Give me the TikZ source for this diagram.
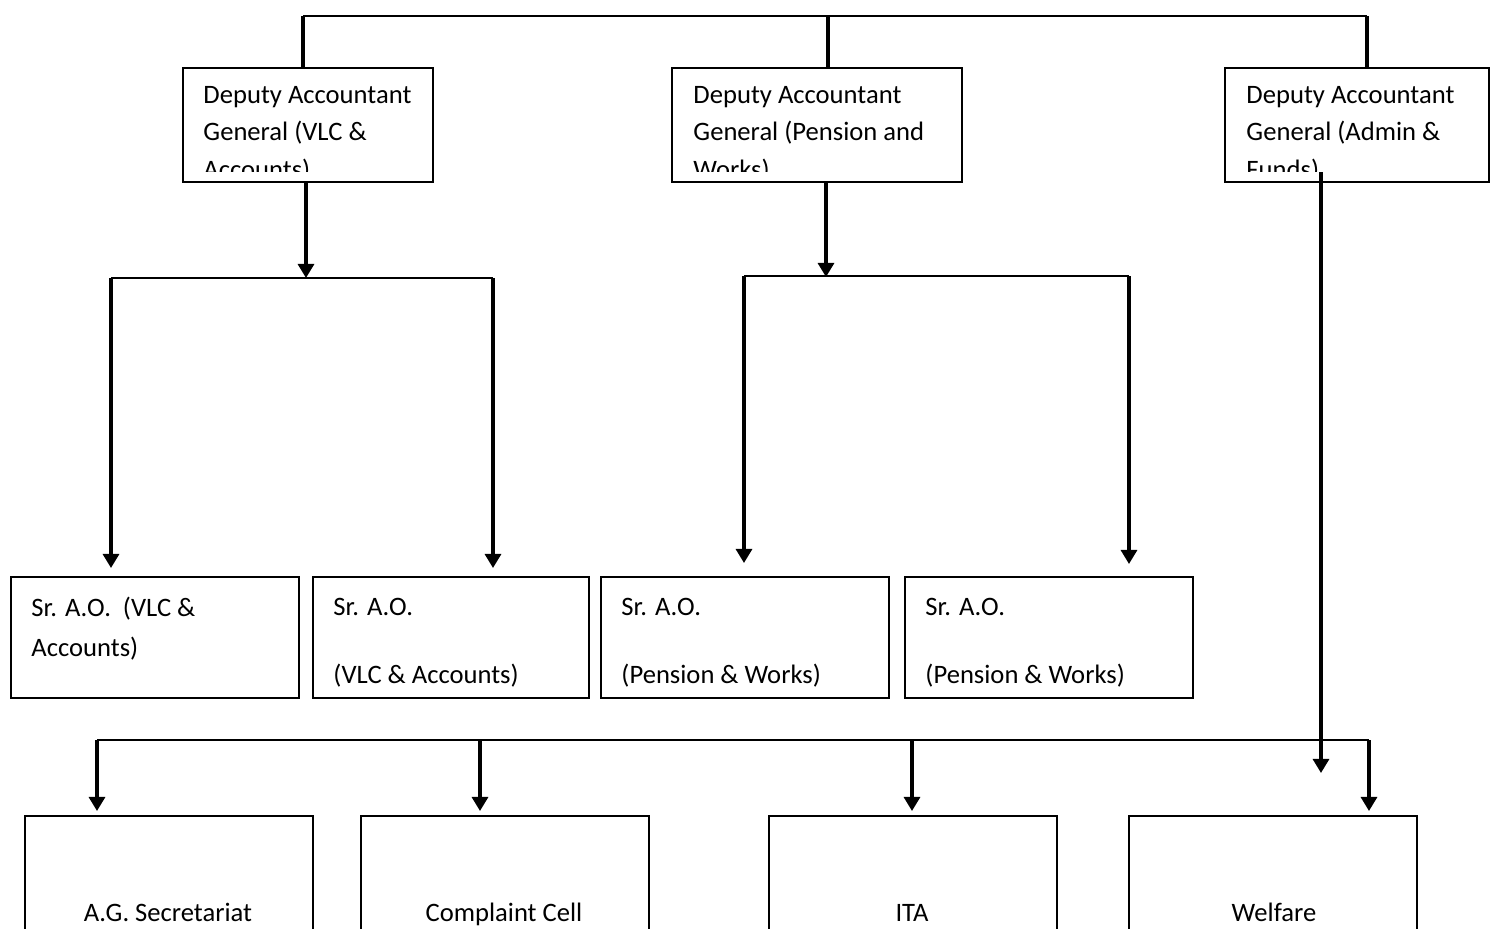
\documentclass[tikz,border=0pt]{standalone}
\usepackage{fontspec}
\setmainfont{Carlito}
\usetikzlibrary{arrows.meta}
\def\pxu{0.4134pt}

\begin{document}
\begin{tikzpicture}[x=\pxu, y=-\pxu,
  box/.style={rectangle, draw=black, line width=1pt, inner sep=0pt,
              anchor=north west},
  txt/.style={anchor=base west, align=left, inner sep=0pt,
              font=\fontsize{11pt}{15.3pt}\selectfont},
  ctxt/.style={anchor=base, inner sep=0pt, font=\fontsize{11pt}{15.3pt}\selectfont},
  bus/.style={line width=0.9pt},
  stem/.style={line width=1.3pt},
  arr/.style={-{Triangle[length=5.8pt, width=6.6pt]}, line width=1.3pt}
]
  \clip (0,0) rectangle (1496,929);

  % deputy accountants general
  \node[box, minimum width={250*\pxu}, minimum height={114*\pxu}] (dagvlc) at (182,67) {};
  \node[box, minimum width={290*\pxu}, minimum height={114*\pxu}] (dagpen) at (671,67) {};
  \node[box, minimum width={264*\pxu}, minimum height={114*\pxu}] (dagadm) at (1224,67) {};
  \begin{scope}
    \clip (0,0) rectangle (1496,171);
    \node[txt] (tvlc) at (203,178) {Deputy Accountant\\General (VLC \&\\Accounts)};
    \node[txt] (tpen) at (693,178) {Deputy Accountant\\General (Pension and\\Works)};
    \node[txt] (tadm) at (1246,178) {Deputy Accountant\\General (Admin \&\\Funds)};
  \end{scope}

  % senior audit officers
  \node[box, minimum width={288*\pxu}, minimum height={121*\pxu}] (aovlca) at (10,576) {};
  \node[box, minimum width={276*\pxu}, minimum height={121*\pxu}] (aovlcb) at (312,576) {};
  \node[box, minimum width={288*\pxu}, minimum height={121*\pxu}] (aopena) at (600,576) {};
  \node[box, minimum width={288*\pxu}, minimum height={121*\pxu}] (aopenb) at (904,576) {};
  \node[txt] (tvlca) at (31,656) {Sr. A.O.\ \ (VLC \&\\[1.2pt]Accounts)};
  \node[txt] (tvlcb) at (333,683) {Sr. A.O.\\[12.4pt](VLC \& Accounts)};
  \node[txt] (tpena) at (621,683) {Sr. A.O.\\[12.4pt](Pension \& Works)};
  \node[txt] (tpenb) at (925,683) {Sr. A.O.\\[12.4pt](Pension \& Works)};

  % sections
  \node[box, minimum width={288*\pxu}, minimum height={200*\pxu}] (secr) at (24,815) {};
  \node[box, minimum width={288*\pxu}, minimum height={200*\pxu}] (cell) at (360,815) {};
  \node[box, minimum width={288*\pxu}, minimum height={200*\pxu}] (ita)  at (768,815) {};
  \node[box, minimum width={288*\pxu}, minimum height={200*\pxu}] (welf) at (1128,815) {};
  \node[ctxt] (tsecr) at (168,921)  {A.G. Secretariat};
  \node[ctxt] (tcell) at (504,921)  {Complaint Cell};
  \node[ctxt] (tita)  at (912,921)  {ITA};
  \node[ctxt] (twelf) at (1274,921) {Welfare};

  % top bus
  \coordinate (tb1) at (303,16);
  \coordinate (tb2) at (828,16);
  \coordinate (tb3) at (1367,16);
  \draw[bus] (tb1) -- (tb3);
  \draw[stem] (tb1) -- (tb1 |- dagvlc.north);
  \draw[stem] (tb2) -- (tb2 |- dagpen.north);
  \draw[stem] (tb3) -- (tb3 |- dagadm.north);

  % vlc branch
  \coordinate (vlcbus) at (306,278);
  \coordinate (vlcl) at (111,278);
  \coordinate (vlcr) at (493,278);
  \draw[arr] (vlcbus |- dagvlc.south) -- (vlcbus);
  \draw[bus] (vlcl) -- (vlcr);
  \draw[arr, shorten >={8*\pxu}] (vlcl) -- (vlcl |- aovlca.north);
  \draw[arr, shorten >={8*\pxu}] (vlcr) -- (vlcr |- aovlcb.north);

  % pension branch
  \coordinate (penbus) at (826,277);
  \coordinate (penl) at (744,276);
  \coordinate (penr) at (1129,276);
  \draw[arr] (penbus |- dagpen.south) -- (penbus);
  \draw[bus] (penl) -- (penr);
  \draw[arr, shorten >={13*\pxu}] (penl) -- (penl |- aopena.north);
  \draw[arr, shorten >={12*\pxu}] (penr) -- (penr |- aopenb.north);

  % admin branch
  \coordinate (admtop) at (1321,172);
  \coordinate (admend) at (1321,773);
  \draw[arr] (admtop) -- (admend);

  % bottom bus
  \coordinate (bb1) at (97,740);
  \coordinate (bb2) at (480,740);
  \coordinate (bb3) at (912,740);
  \coordinate (bb4) at (1369,740);
  \draw[bus] (bb1) -- (bb4);
  \draw[arr, shorten >={4*\pxu}] (bb1) -- (bb1 |- secr.north);
  \draw[arr, shorten >={4*\pxu}] (bb2) -- (bb2 |- cell.north);
  \draw[arr, shorten >={4*\pxu}] (bb3) -- (bb3 |- ita.north);
  \draw[arr, shorten >={4*\pxu}] (bb4) -- (bb4 |- welf.north);
\end{tikzpicture}
\end{document}
